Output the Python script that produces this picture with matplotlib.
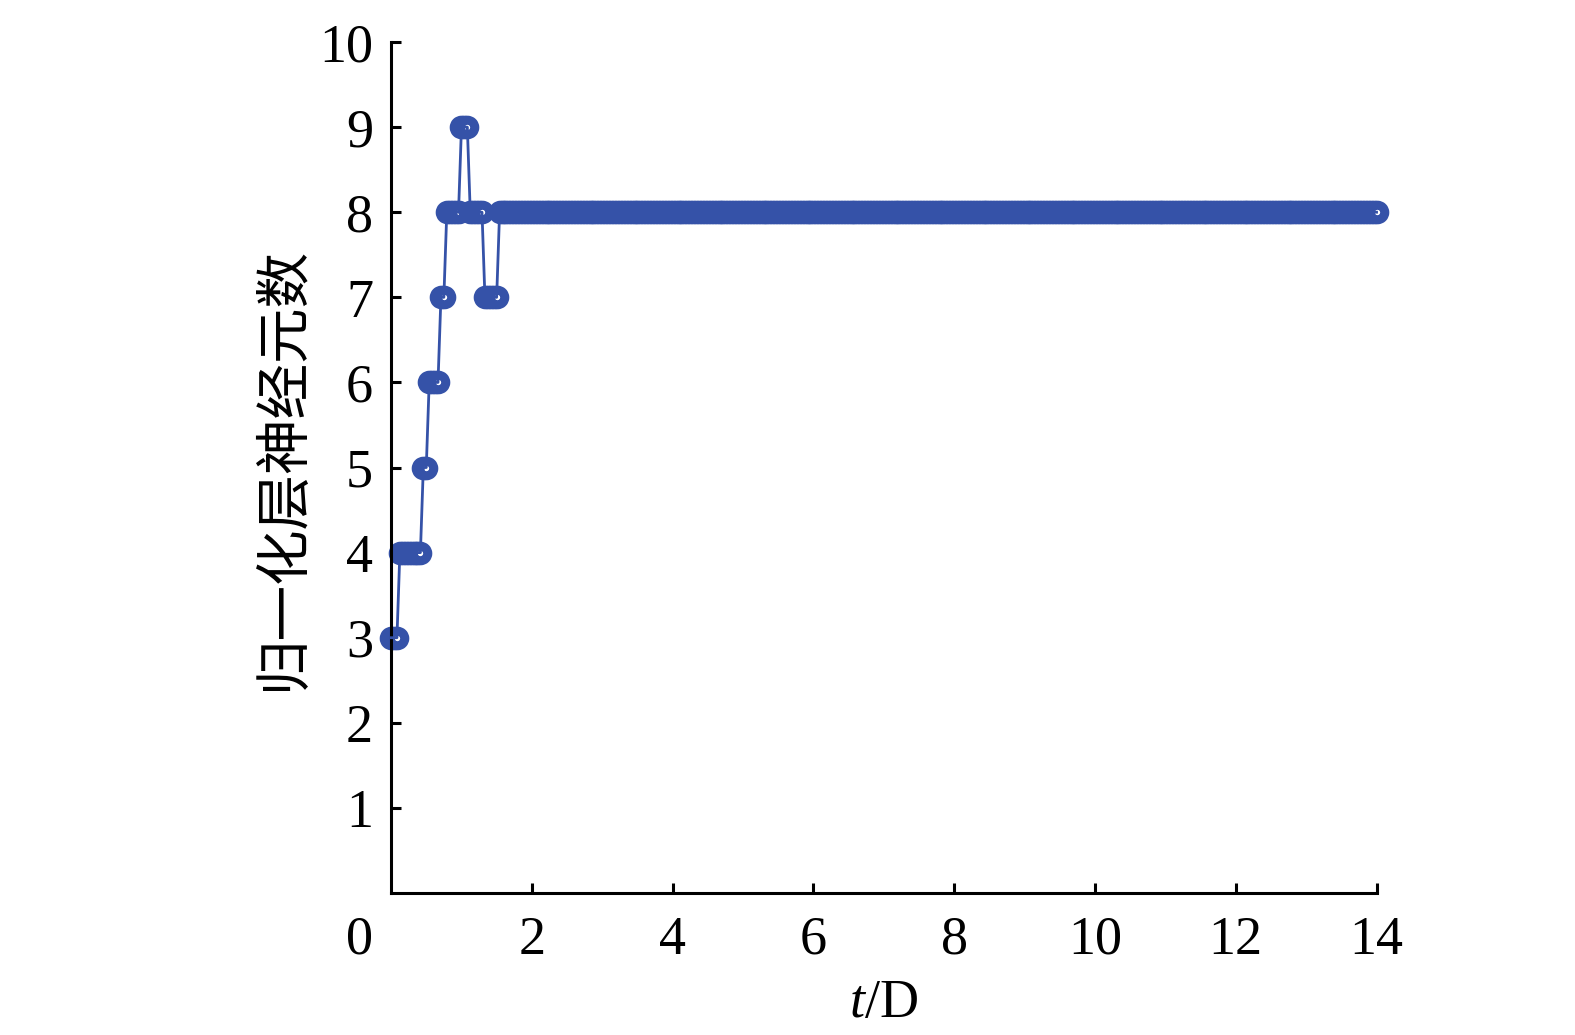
import numpy as np
import matplotlib
matplotlib.use("Agg")
import matplotlib.pyplot as plt

plt.rcParams['font.family'] = ['Liberation Serif', 'Noto Sans CJK SC']
plt.rcParams['mathtext.fontset'] = 'custom'
plt.rcParams['mathtext.rm'] = 'Liberation Serif'
plt.rcParams['mathtext.it'] = 'Liberation Serif:italic'

# hourly samples, neuron count held for each run of hours
levels = [3, 4, 5, 6, 7, 8, 9, 8, 7, 8]
run_hours = [3, 8, 2, 4, 2, 5, 3, 5, 5, 300]

xticks = [2, 4, 6, 8, 10, 12, 14]
yticks = [1, 2, 3, 4, 5, 6, 7, 8, 9, 10]

neurons = np.repeat(levels, run_hours)
t = np.arange(len(neurons)) / 24.0

blue = '#3552a8'

fig = plt.figure(figsize=(15.75, 10.35), dpi=100)
ax = fig.add_axes([0.2483, 0.1372, 0.6257, 0.8222])

# markers first, connecting line drawn over them
ax.plot(t, neurons, linestyle='none', marker='o', markersize=10.5,
        markerfacecolor='white', markeredgecolor=blue, markeredgewidth=6.5,
        zorder=2, clip_on=False)
ax.plot(t, neurons, color=blue, linewidth=2, zorder=3, clip_on=False)

ax.set_xlim(0, 14)
ax.set_ylim(0, 10)
ax.set_xticks(xticks)
ax.set_yticks(yticks)
ax.tick_params(direction='in', length=7, width=2.2, labelsize=39)
ax.tick_params(axis='y', pad=13)
ax.tick_params(axis='x', pad=16)

for side in ['top', 'right']:
    ax.spines[side].set_visible(False)
for side in ['left', 'bottom']:
    ax.spines[side].set_linewidth(2.2)

# shared origin label
ax.annotate('0', xy=(0, 0), xycoords='data', xytext=(-13, -16),
            textcoords='offset points', ha='right', va='top', fontsize=39)

ax.set_xlabel('$t$/D', fontsize=39, labelpad=9)
ax.set_ylabel('归一化层神经元数', fontsize=40, labelpad=5,
              family=['Noto Sans CJK SC', 'Liberation Serif'])

fig.savefig('out.png', dpi=100)
